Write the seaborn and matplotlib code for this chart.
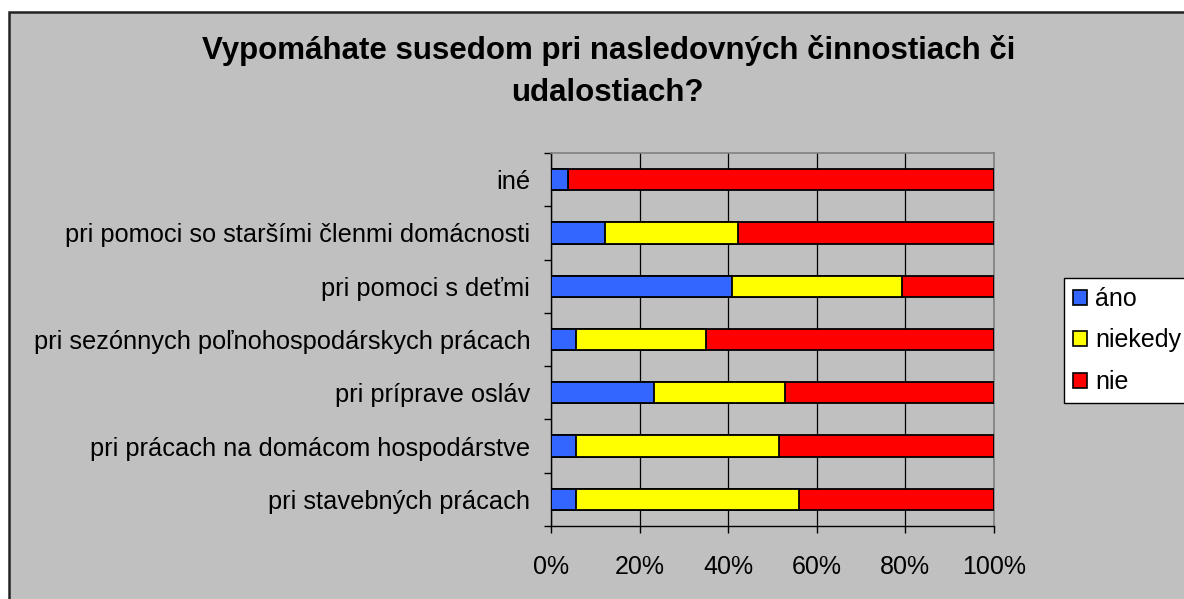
import numpy as np
import pandas as pd
import matplotlib
matplotlib.use("Agg")
import matplotlib.pyplot as plt
import seaborn as sns
from matplotlib.patches import Rectangle, Patch
from matplotlib.ticker import PercentFormatter, FixedLocator

plt.rcParams['font.family'] = ['Liberation Sans', 'DejaVu Sans']

# ---- data (percent shares) ----
categories = [
    "iné",
    "pri pomoci so staršími členmi domácnosti",
    "pri pomoci s deťmi",
    "pri sezónnych poľnohospodárskych prácach",
    "pri príprave osláv",
    "pri prácach na domácom hospodárstve",
    "pri stavebných prácach",
]
ano = [3.8, 12.2, 40.9, 5.6, 23.3, 5.6, 5.6]
niekedy = [0.0, 30.0, 38.4, 29.5, 29.5, 45.9, 50.4]
nie = [96.2, 57.8, 20.7, 64.9, 47.2, 48.5, 44.0]
series_names = ["áno", "niekedy", "nie"]
series_colors = ["#3366FF", "#FFFF00", "#FF0000"]
xticks = [0, 20, 40, 60, 80, 100]
title_lines = ["Vypomáhate susedom pri nasledovných činnostiach či", "udalostiach?"]

df = pd.DataFrame({"kategoria": categories, "ano": ano, "niekedy": niekedy, "nie": nie})
df["c1"] = df["ano"]
df["c2"] = df["ano"] + df["niekedy"]
df["c3"] = df["ano"] + df["niekedy"] + df["nie"]

W, H = 1184, 599
fig = plt.figure(figsize=(W / 100, H / 100), dpi=100, facecolor="white")
bg = "#C0C0C0"
fig.patches.append(Rectangle((9 / W, -0.05), 1.1, 1 - 12 / H + 0.05, transform=fig.transFigure,
                             facecolor=bg, edgecolor="#222222", linewidth=1.8, zorder=-10))

ax = fig.add_axes([551 / W, 1 - 526 / H, (994 - 551) / W, (526 - 153) / H])
ax.set_facecolor(bg)

for col, color in zip(["c3", "c2", "c1"], series_colors[::-1]):
    sns.barplot(data=df, x=col, y="kategoria", color=color, width=0.4, orient="h",
                edgecolor="black", linewidth=1.3, saturation=1, ax=ax, zorder=3)

ax.set_xlim(0, 100)
ax.set_ylim(len(categories) - 0.5, -0.5)
ax.set_xlabel("")
ax.set_ylabel("")
ax.xaxis.set_major_locator(FixedLocator(xticks))
ax.xaxis.set_major_formatter(PercentFormatter(xmax=100, decimals=0))
ax.set_axisbelow(True)
ax.grid(axis="x", color="black", linewidth=0.9, zorder=1)
ax.grid(axis="y", visible=False)

ax.set_yticks(np.arange(len(categories)))
ax.set_yticklabels(categories)
ax.set_yticks(np.arange(len(categories) + 1) - 0.5, minor=True)
ax.tick_params(axis="y", which="major", length=0, pad=15, labelsize=18.3)
ax.tick_params(axis="y", which="minor", length=5, width=1, color="black", direction="out")
ax.tick_params(axis="x", which="major", length=5, width=1, color="black", direction="out",
               pad=16, labelsize=18)

for side in ["left", "bottom"]:
    ax.spines[side].set_color("black")
    ax.spines[side].set_linewidth(1.0)
for side in ["top", "right"]:
    ax.spines[side].set_color("#808080")
    ax.spines[side].set_linewidth(1.2)

# title
fig.text(609 / W, 1 - 59 / H, title_lines[0], ha="center", va="baseline",
         fontsize=22.5, fontweight="bold")
fig.text(607 / W, 1 - 101 / H, title_lines[1], ha="center", va="baseline",
         fontsize=22.5, fontweight="bold")

handles = [Patch(facecolor=c, edgecolor="black", linewidth=1.2) for c in series_colors]
leg = fig.legend(handles, series_names, loc="upper left",
                 bbox_to_anchor=(1064 / W, 1 - 278 / H), bbox_transform=fig.transFigure,
                 borderaxespad=0, fontsize=18, handlelength=0.55, handleheight=0.55,
                 handletextpad=0.35, labelspacing=0.7, borderpad=0.36,
                 fancybox=False, shadow=False, frameon=True)
leg.get_frame().set_facecolor("white")
leg.get_frame().set_edgecolor("black")
leg.get_frame().set_linewidth(1.0)
leg.get_frame().set_alpha(1)

fig.savefig("out.png", dpi=100, facecolor="white")
